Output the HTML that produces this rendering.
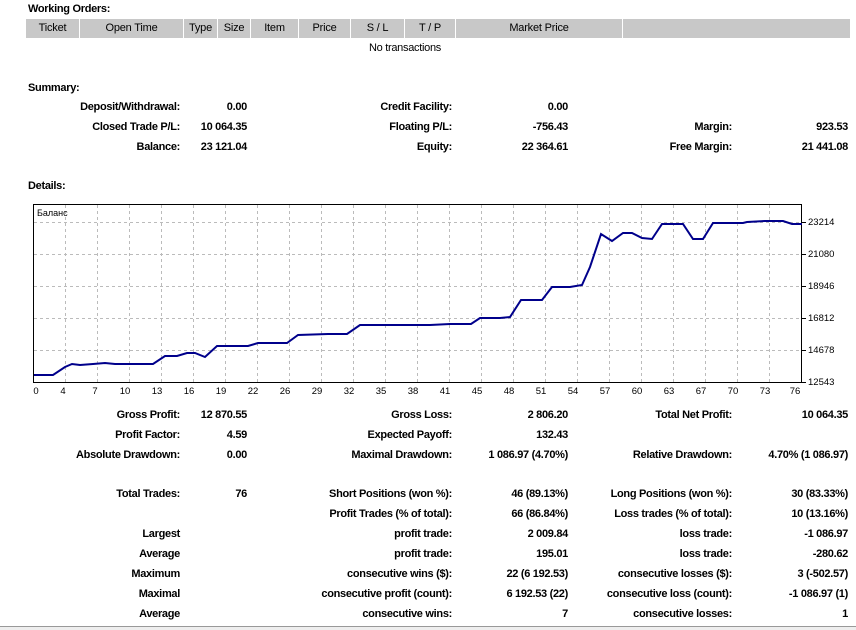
<!DOCTYPE html>
<html><head><meta charset="utf-8"><style>
body{margin:0;width:856px;height:630px;background:#fff;position:relative;overflow:hidden;font-family:"Liberation Sans",sans-serif;font-size:11px;color:#000}
.t{position:absolute;white-space:nowrap;line-height:14px;font-weight:bold;letter-spacing:-0.3px}
.r{text-align:right}
.h{position:absolute;top:19px;height:19px;background:#c8c8c8;line-height:19px;text-align:center;font-size:11px;letter-spacing:-0.2px}
</style></head><body>
<div class="t" style="left:28px;top:2px">Working Orders:</div>
<div class="h" style="left:26px;width:53px">Ticket</div>
<div class="h" style="left:80px;width:103px">Open Time</div>
<div class="h" style="left:184px;width:33px">Type</div>
<div class="h" style="left:218px;width:32px">Size</div>
<div class="h" style="left:251px;width:47px">Item</div>
<div class="h" style="left:299px;width:51px">Price</div>
<div class="h" style="left:351px;width:53px">S / L</div>
<div class="h" style="left:405px;width:50px">T / P</div>
<div class="h" style="left:456px;width:166px">Market Price</div>
<div class="h" style="left:623px;width:227px"></div>
<div class="t" style="left:340px;top:41px;width:130px;text-align:center;font-weight:normal">No transactions</div>
<div class="t" style="left:28px;top:81px">Summary:</div>
<div class="t" style="left:28px;top:179px">Details:</div>

<svg style="position:absolute;left:0;top:0" width="856" height="630">
<rect x="33.5" y="204.5" width="768" height="178" fill="#fff" stroke="#000"/>
<g stroke="#bbb" stroke-dasharray="3,3" stroke-width="1">
<path d="M34 222.5H801M34 254.5H801M34 286.5H801M34 318.5H801M34 350.5H801"/>
<path d="M65.5 205V382M97.5 205V382M129.5 205V382M161.5 205V382M193.5 205V382M225.5 205V382M257.5 205V382M289.5 205V382M321.5 205V382M353.5 205V382M385.5 205V382M417.5 205V382M449.5 205V382M481.5 205V382M513.5 205V382M545.5 205V382M577.5 205V382M609.5 205V382M641.5 205V382M673.5 205V382M705.5 205V382M737.5 205V382M769.5 205V382"/>
</g>
<g stroke="#000"><path d="M802 222.5h4M802 254.5h4M802 286.5h4M802 318.5h4M802 350.5h4M802 382.5h4"/></g>
<polyline fill="none" stroke="#00008b" stroke-width="2" points="34,375 53,375 65,367 72,364 80,365 93,364 105,363 115,364 153,364 165,356 177,356 187,353 195,353 205,357 217,346 248,346 258,343 287,343 298,335 328,334 347,334 360,325 430,325 450,324 471,324 480,318 500,318 510,317 521,300 542,300 552,287 570,287 582,285 590,267 601,234 612,241 623,233 632,233 642,238 652,239 662,224 683,224 693,239 703,239 713,223 743,223 747,222 765,221 783,221 792,224 802,224"/>
<text x="37" y="216" font-family="Liberation Sans,sans-serif" font-size="9">Баланс</text>
<g font-family="Liberation Sans,sans-serif" font-size="9.5">
<text x="808" y="225">23214</text><text x="808" y="257">21080</text><text x="808" y="289">18946</text><text x="808" y="321">16812</text><text x="808" y="353">14678</text><text x="808" y="385">12543</text>
</g>
<g font-family="Liberation Sans,sans-serif" font-size="9.5" text-anchor="middle">
<text x="36" y="394">0</text><text x="63" y="394">4</text><text x="95" y="394">7</text><text x="125" y="394">10</text><text x="157" y="394">13</text><text x="189" y="394">16</text><text x="221" y="394">19</text><text x="253" y="394">22</text><text x="285" y="394">26</text><text x="317" y="394">29</text><text x="349" y="394">32</text><text x="381" y="394">35</text><text x="413" y="394">38</text><text x="445" y="394">41</text><text x="477" y="394">45</text><text x="509" y="394">48</text><text x="541" y="394">51</text><text x="573" y="394">54</text><text x="605" y="394">57</text><text x="637" y="394">60</text><text x="669" y="394">63</text><text x="701" y="394">67</text><text x="733" y="394">70</text><text x="765" y="394">73</text><text x="795" y="394">76</text>
</g>
<rect x="0" y="627" width="856" height="3" fill="#eee"/>
<rect x="0" y="626" width="856" height="1" fill="#999"/>
</svg>

<!-- summary -->
<div class="t r" style="right:676px;top:100px">Deposit/Withdrawal:</div><div class="t r" style="right:609px;top:100px">0.00</div>
<div class="t r" style="right:404px;top:100px">Credit Facility:</div><div class="t r" style="right:288px;top:100px">0.00</div>
<div class="t r" style="right:676px;top:120px">Closed Trade P/L:</div><div class="t r" style="right:609px;top:120px">10 064.35</div>
<div class="t r" style="right:404px;top:120px">Floating P/L:</div><div class="t r" style="right:288px;top:120px">-756.43</div>
<div class="t r" style="right:124px;top:120px">Margin:</div><div class="t r" style="right:8px;top:120px">923.53</div>
<div class="t r" style="right:676px;top:140px">Balance:</div><div class="t r" style="right:609px;top:140px">23 121.04</div>
<div class="t r" style="right:404px;top:140px">Equity:</div><div class="t r" style="right:288px;top:140px">22 364.61</div>
<div class="t r" style="right:124px;top:140px">Free Margin:</div><div class="t r" style="right:8px;top:140px">21 441.08</div>

<!-- details -->
<div class="t r" style="right:676px;top:408px">Gross Profit:</div><div class="t r" style="right:609px;top:408px">12 870.55</div>
<div class="t r" style="right:404px;top:408px">Gross Loss:</div><div class="t r" style="right:288px;top:408px">2 806.20</div>
<div class="t r" style="right:124px;top:408px">Total Net Profit:</div><div class="t r" style="right:8px;top:408px">10 064.35</div>

<div class="t r" style="right:676px;top:428px">Profit Factor:</div><div class="t r" style="right:609px;top:428px">4.59</div>
<div class="t r" style="right:404px;top:428px">Expected Payoff:</div><div class="t r" style="right:288px;top:428px">132.43</div>

<div class="t r" style="right:676px;top:448px">Absolute Drawdown:</div><div class="t r" style="right:609px;top:448px">0.00</div>
<div class="t r" style="right:404px;top:448px">Maximal Drawdown:</div><div class="t r" style="right:288px;top:448px">1 086.97 (4.70%)</div>
<div class="t r" style="right:124px;top:448px">Relative Drawdown:</div><div class="t r" style="right:8px;top:448px">4.70% (1 086.97)</div>

<div class="t r" style="right:676px;top:487px">Total Trades:</div><div class="t r" style="right:609px;top:487px">76</div>
<div class="t r" style="right:404px;top:487px">Short Positions (won %):</div><div class="t r" style="right:288px;top:487px">46 (89.13%)</div>
<div class="t r" style="right:124px;top:487px">Long Positions (won %):</div><div class="t r" style="right:8px;top:487px">30 (83.33%)</div>

<div class="t r" style="right:404px;top:507px">Profit Trades (% of total):</div><div class="t r" style="right:288px;top:507px">66 (86.84%)</div>
<div class="t r" style="right:124px;top:507px">Loss trades (% of total):</div><div class="t r" style="right:8px;top:507px">10 (13.16%)</div>

<div class="t r" style="right:676px;top:527px">Largest</div>
<div class="t r" style="right:404px;top:527px">profit trade:</div><div class="t r" style="right:288px;top:527px">2 009.84</div>
<div class="t r" style="right:124px;top:527px">loss trade:</div><div class="t r" style="right:8px;top:527px">-1 086.97</div>

<div class="t r" style="right:676px;top:547px">Average</div>
<div class="t r" style="right:404px;top:547px">profit trade:</div><div class="t r" style="right:288px;top:547px">195.01</div>
<div class="t r" style="right:124px;top:547px">loss trade:</div><div class="t r" style="right:8px;top:547px">-280.62</div>

<div class="t r" style="right:676px;top:567px">Maximum</div>
<div class="t r" style="right:404px;top:567px">consecutive wins ($):</div><div class="t r" style="right:288px;top:567px">22 (6 192.53)</div>
<div class="t r" style="right:124px;top:567px">consecutive losses ($):</div><div class="t r" style="right:8px;top:567px">3 (-502.57)</div>

<div class="t r" style="right:676px;top:587px">Maximal</div>
<div class="t r" style="right:404px;top:587px">consecutive profit (count):</div><div class="t r" style="right:288px;top:587px">6 192.53 (22)</div>
<div class="t r" style="right:124px;top:587px">consecutive loss (count):</div><div class="t r" style="right:8px;top:587px">-1 086.97 (1)</div>

<div class="t r" style="right:676px;top:607px">Average</div>
<div class="t r" style="right:404px;top:607px">consecutive wins:</div><div class="t r" style="right:288px;top:607px">7</div>
<div class="t r" style="right:124px;top:607px">consecutive losses:</div><div class="t r" style="right:8px;top:607px">1</div>
</body></html>
